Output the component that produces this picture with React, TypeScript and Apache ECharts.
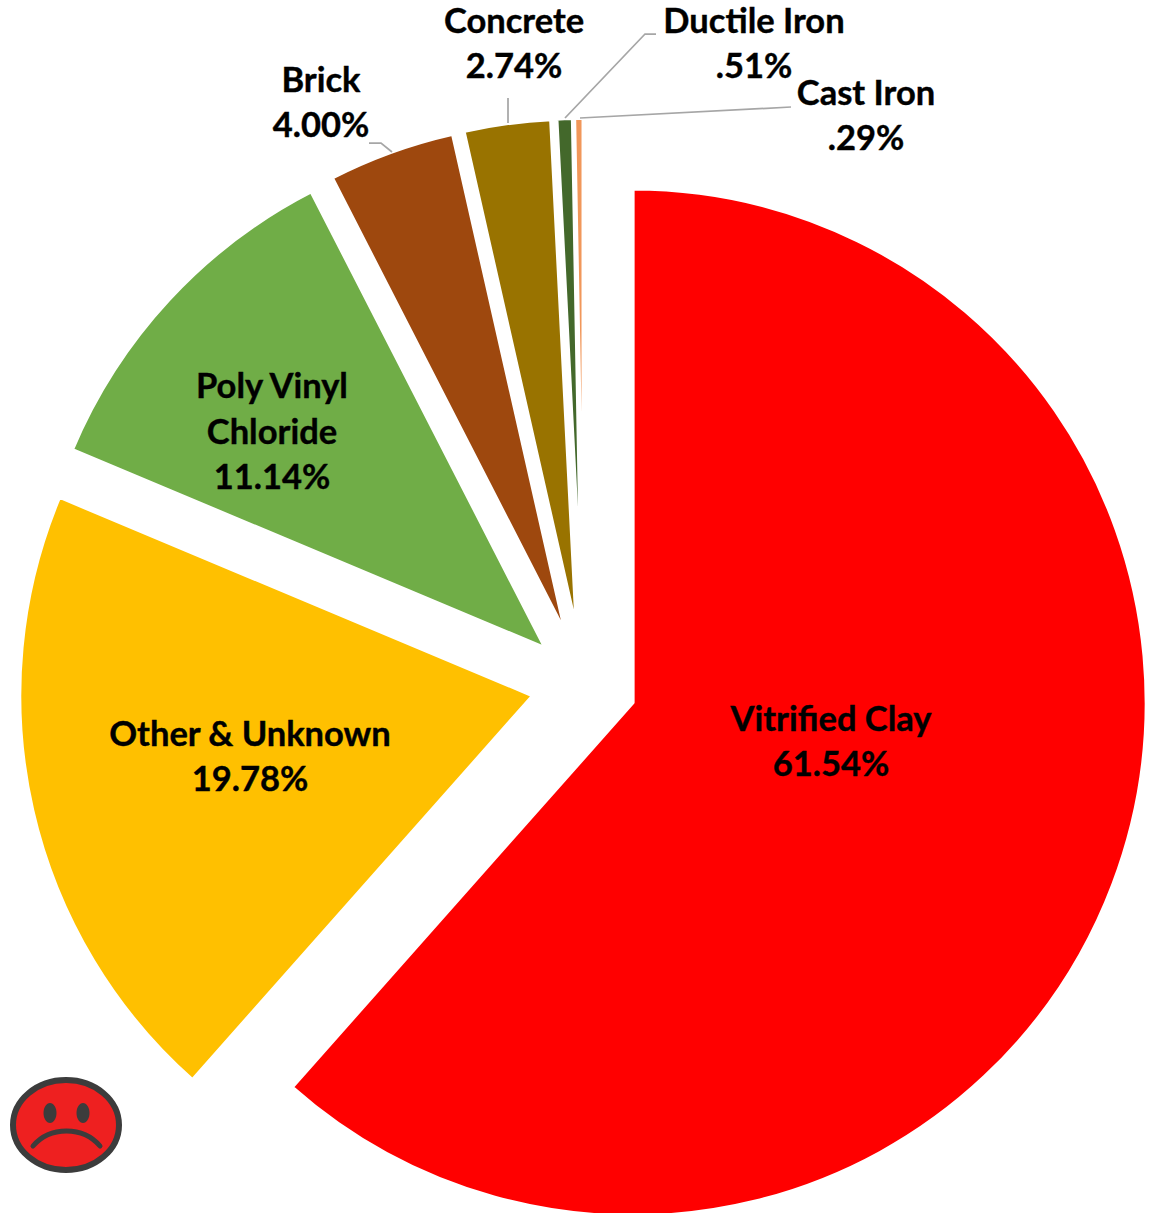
import React, { useEffect, useRef } from "react";
import * as echarts from "echarts";

const categories = ["Vitrified Clay", "Other & Unknown", "Poly Vinyl\nChloride", "Brick", "Concrete", "Ductile Iron", "Cast Iron"];
const shares = [61.54, 19.78, 11.14, 4.0, 2.74, 0.51, 0.29];
const shareTexts = ["61.54%", "19.78%", "11.14%", "4.00%", "2.74%", ".51%", ".29%"];
const colors = ["#FF0000", "#FFC000", "#70AD47", "#9E480E", "#997300", "#43682B", "#F1975A"];
const labelAnchors = [[831, 740], [250, 755], [272, 430], [321, 101], [514, 42], [754, 42], [866, 114]];
const leaderLines: number[][][] = [
  [[392, 152], [381, 143], [369, 143]],
  [[508, 123], [508, 98]],
  [[565, 118], [645, 34], [656, 34]],
  [[580, 118], [791, 107]],
];

const WIDTH = 1158;
const HEIGHT = 1213;

export default function App() {
  const ref = useRef<HTMLDivElement>(null);
  useEffect(() => {
    const chart = echarts.init(ref.current!, null, { renderer: "svg" });
    chart.setOption({
      animation: false,
      backgroundColor: "#FFFFFF",
      series: [
        {
          type: "pie",
          center: [584, 684],
          radius: [0, 514],
          startAngle: 90,
          clockwise: true,
          selectedMode: "multiple",
          selectedOffset: 52,
          avoidLabelOverlap: false,
          silent: true,
          emphasis: { disabled: true },
          itemStyle: { borderColor: "#FFFFFF", borderWidth: 4 },
          label: { show: false },
          labelLine: { show: false },
          data: categories.map((name, i) => ({
            name,
            value: shares[i],
            selected: true,
            itemStyle: { color: colors[i] },
          })),
        },
      ],
      graphic: [
        ...leaderLines.map((pts) => ({
          type: "polyline",
          silent: true,
          z: 100,
          shape: { points: pts },
          style: { stroke: "#A6A6A6", lineWidth: 1.75, fill: null },
        })),
        ...categories.map((name, i) => ({
          type: "text",
          silent: true,
          z: 100,
          x: labelAnchors[i][0],
          y: labelAnchors[i][1],
          style: {
            text: `${name}\n${shareTexts[i]}`,
            fill: "#000000",
            stroke: "#000000",
            lineWidth: 0.4,
            font: "bold 34.5px Lato",
            lineHeight: 45.5,
            align: "center",
            verticalAlign: "middle",
          },
        })),
        {
          type: "group",
          silent: true,
          z: 100,
          children: [
            { type: "ellipse", z: 100, shape: { cx: 66, cy: 1125, rx: 53, ry: 45 }, style: { fill: "#EE2020", stroke: "#3C3C3C", lineWidth: 6 } },
            { type: "ellipse", z: 100, shape: { cx: 50, cy: 1113, rx: 6.5, ry: 10 }, style: { fill: "#3C3C3C" } },
            { type: "ellipse", z: 100, shape: { cx: 83, cy: 1113, rx: 6.5, ry: 10 }, style: { fill: "#3C3C3C" } },
            {
              type: "bezierCurve",
              z: 100,
              shape: { x1: 33, y1: 1146, cpx1: 50, cpy1: 1126, cpx2: 83, cpy2: 1126, x2: 100, y2: 1146 },
              style: { stroke: "#3C3C3C", lineWidth: 5, lineCap: "round", fill: null },
            },
          ],
        },
      ],
    });
    return () => chart.dispose();
  }, []);
  return <div ref={ref} style={{ position: "absolute", left: 0, top: 0, width: WIDTH, height: HEIGHT }} />;
}
